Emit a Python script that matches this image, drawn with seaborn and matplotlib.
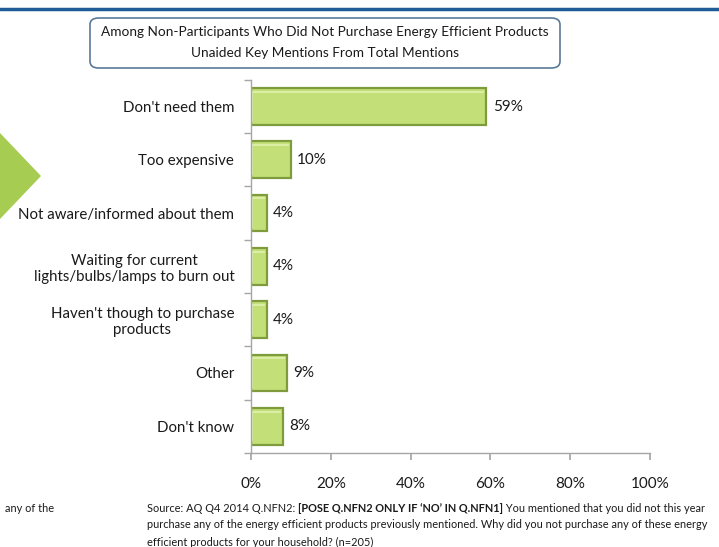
import matplotlib
matplotlib.use('Agg')
import matplotlib.pyplot as plt
import matplotlib.patches as mpatches
from matplotlib.ticker import PercentFormatter, FixedLocator
import seaborn as sns
import pandas as pd

reasons = [
    "Don't need them",
    "Too expensive",
    "Not aware/informed about them",
    "Waiting for current\nlights/bulbs/lamps to burn out",
    "Haven't though to purchase\nproducts",
    "Other",
    "Don't know",
]
shares = [59, 10, 4, 4, 4, 9, 8]
x_ticks = [0, 20, 40, 60, 80, 100]

title_lines = [
    "Among Non-Participants Who Did Not Purchase Energy Efficient Products",
    "Unaided Key Mentions From Total Mentions",
]
source_parts = [
    ("Source: AQ Q4 2014 Q.NFN2: ", "normal"),
    ("[POSE Q.NFN2 ONLY IF \u2018NO\u2019 IN Q.NFN1]", "bold"),
    (" You mentioned that you did not this year", "normal"),
]
source_rest = [
    "purchase any of the energy efficient products previously mentioned. Why did you not purchase any of these energy",
    "efficient products for your household? (n=205)",
]

sns.set_theme(style='white')
plt.rcParams['font.family'] = ['Lato', 'DejaVu Sans']

df = pd.DataFrame({'reason': reasons, 'share': shares})

fig = plt.figure(figsize=(7.19, 5.47), dpi=100)
ax = fig.add_axes([0.349, 0.172, 0.555, 0.682])

sns.barplot(data=df, x='share', y='reason', orient='h', ax=ax, width=0.69,
            color='#c3df78', edgecolor='#7e9c3c', linewidth=1.6, saturation=1)

ax.set_xlim(0, 100)
ax.set_ylim(len(reasons) - 0.5, -0.5)
ax.xaxis.set_major_locator(FixedLocator(x_ticks))
ax.xaxis.set_major_formatter(PercentFormatter(decimals=0))
ax.set_xlabel('')
ax.set_ylabel('')
for s in ['top', 'right']:
    ax.spines[s].set_visible(False)
for s in ['left', 'bottom']:
    ax.spines[s].set_color('#a6a6a6')
    ax.spines[s].set_linewidth(1)
ax.tick_params(axis='x', bottom=True, length=5, color='#a6a6a6', labelsize=11,
               labelcolor='#1a1a1a', pad=12)
ax.tick_params(axis='y', left=False, labelsize=10.8, labelcolor='#1a1a1a', pad=6)
for lab in ax.get_yticklabels():
    lab.set_multialignment('center')
ax.set_yticks([i - 0.5 for i in range(len(reasons) + 1)], minor=True)
ax.tick_params(axis='y', which='minor', left=True, length=5, color='#a6a6a6')

# lighter highlight along the top/left of each bar for the bevel look
for p in ax.patches:
    ax.plot([p.get_x() + 0.35, p.get_x() + 0.35, p.get_x() + p.get_width() - 0.5],
            [p.get_y() + p.get_height() - 0.06, p.get_y() + 0.07, p.get_y() + 0.07],
            color='#e2f2b0', lw=1.2, solid_capstyle='butt')

for p, v in zip(ax.patches, shares):
    y = p.get_y() + p.get_height() / 2
    ax.text(p.get_width() + 1.6, y, f'{v}%', va='center', ha='left',
            fontsize=11, color='#1a1a1a')

# top rule
fig.add_artist(plt.Line2D([0, 1], [1 - 9 / 547, 1 - 9 / 547], color='#1f5b96', lw=2.5))

# title box
box = mpatches.FancyBboxPatch((90 / 719, 1 - 68 / 547), 470 / 719, 50 / 547,
                              boxstyle='round,pad=0,rounding_size=0.012',
                              transform=fig.transFigure, facecolor='white',
                              edgecolor='#5b7a99', lw=1.2)
fig.add_artist(box)
fig.text(325 / 719, 1 - 32 / 547, title_lines[0], ha='center', va='center',
         fontsize=9.8, color='#1a1a1a')
fig.text(325 / 719, 1 - 53 / 547, title_lines[1], ha='center', va='center',
         fontsize=9.8, color='#1a1a1a')

# green arrow partially visible on left edge
arrow = mpatches.Polygon([(0, 1 - 133 / 547), (41 / 719, 1 - 176 / 547), (0, 1 - 219 / 547)],
                         closed=True, transform=fig.transFigure,
                         facecolor='#a6cc52', edgecolor='none')
fig.add_artist(arrow)

fig.text(5 / 719, 1 - 508 / 547, 'any of the', ha='left', va='center',
         fontsize=7.9, color='#1a1a1a')

fig.canvas.draw()
renderer = fig.canvas.get_renderer()
x0 = 147 / 719
for txt, wt in source_parts:
    t = fig.text(x0, 1 - 508 / 547, txt, ha='left', va='center', fontsize=7.9,
                 fontweight=wt, color='#1a1a1a')
    bb = t.get_window_extent(renderer=renderer)
    x0 = bb.x1 / fig.bbox.width
for i, line in enumerate(source_rest):
    fig.text(147 / 719, 1 - (525 + 17 * i) / 547, line, ha='left', va='center',
             fontsize=7.9, color='#1a1a1a')

fig.savefig('out.png', dpi=100)
